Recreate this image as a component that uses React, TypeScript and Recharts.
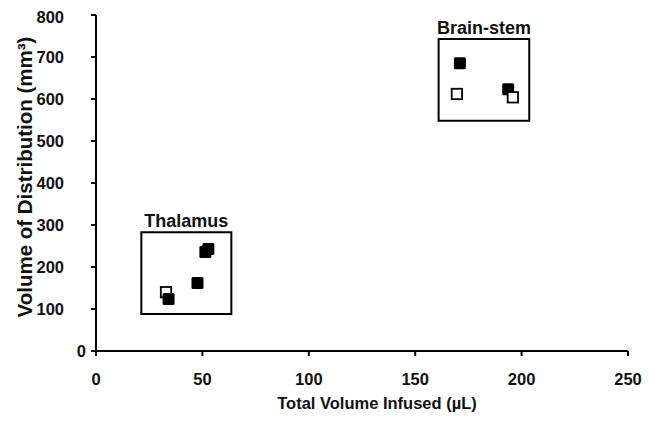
import { ScatterChart, Scatter, XAxis, YAxis, ReferenceArea, Label } from 'recharts';

const FONT = '"Liberation Sans", Arial, Helvetica, sans-serif';

// values (x: µL infused, y: mm³ distributed)
const thalamusOpen = [{ x: 32.9, y: 140 }];
const thalamusFilled = [
  { x: 34.1, y: 124 },
  { x: 47.7, y: 162 },
  { x: 51.4, y: 236 },
  { x: 52.8, y: 243 },
];
const brainstemFilled = [
  { x: 171, y: 685 },
  { x: 193.7, y: 623 },
];
const brainstemOpen = [
  { x: 169.6, y: 612 },
  { x: 195.9, y: 604 },
];

const xTicks = [0, 50, 100, 150, 200, 250];
const yTicks = [0, 100, 200, 300, 400, 500, 600, 700, 800];

const regions = [
  { name: 'Thalamus', x1: 21.3, x2: 63.6, y1: 88, y2: 283 },
  { name: 'Brain-stem', x1: 161, x2: 203.6, y1: 548, y2: 743 },
];

const tickStyle = { fontSize: 16.5, fontWeight: 700, fill: '#111', fontFamily: FONT };

function YTick(props: any) {
  const { x, y, payload } = props;
  // the zero label sits closer to the axis than the others in the original
  const shift = payload.value === 0 ? -3 : -25;
  return (
    <text x={x + shift} y={y} dy="0.35em" textAnchor="end" {...tickStyle}>
      {payload.value}
    </text>
  );
}

function FilledSquare(props: any) {
  const { cx, cy } = props;
  return <rect x={cx - 6} y={cy - 6} width={12} height={12} rx={1.5} fill="#000" />;
}

function OpenSquare(props: any) {
  const { cx, cy } = props;
  return (
    <rect x={cx - 5.2} y={cy - 5.2} width={10.4} height={10.4} fill="#fff" stroke="#000" strokeWidth={1.8} />
  );
}

export default function App() {
  return (
    <div style={{ width: 640, height: 410, fontFamily: FONT }}>
      <ScatterChart width={640} height={410} margin={{ top: 7, right: 20, bottom: 5, left: 0 }}>
        <XAxis
          type="number"
          dataKey="x"
          domain={[0, 250]}
          ticks={xTicks}
          tick={tickStyle}
          tickSize={5}
          tickMargin={17}
          height={62}
          axisLine={{ stroke: '#000', strokeWidth: 2 }}
          tickLine={{ stroke: '#000', strokeWidth: 2 }}
        >
          <Label
            content={({ viewBox }: any) => (
              <text
                x={viewBox.x + viewBox.width / 2 + 15}
                y={viewBox.y + 58}
                textAnchor="middle"
                fontSize={16.5}
                fontWeight={700}
                fill="#111"
                fontFamily={FONT}
              >
                Total Volume Infused (µL)
              </text>
            )}
          />
        </XAxis>
        <YAxis
          type="number"
          dataKey="y"
          domain={[0, 800]}
          ticks={yTicks}
          tick={YTick}
          tickSize={5}
          width={88}
          axisLine={{ stroke: '#000', strokeWidth: 2 }}
          tickLine={{ stroke: '#000', strokeWidth: 2 }}
        >
          <Label
            content={({ viewBox }: any) => {
              const x = viewBox.x + 24;
              const y = viewBox.y + viewBox.height / 2 - 6;
              return (
                <text
                  x={x}
                  y={y}
                  transform={`rotate(-90 ${x} ${y})`}
                  textAnchor="middle"
                  fontSize={20.5}
                  fontWeight={700}
                  fill="#111"
                  fontFamily={FONT}
                >
                  Volume of Distribution (mm³)
                </text>
              );
            }}
          />
        </YAxis>
        {regions.map((r) => (
          <ReferenceArea
            key={r.name}
            x1={r.x1}
            x2={r.x2}
            y1={r.y1}
            y2={r.y2}
            fill="none"
            fillOpacity={0}
            stroke="#000"
            strokeWidth={2}
            label={{
              value: r.name,
              position: 'top',
              offset: 5,
              fontSize: 18,
              fontWeight: 700,
              fill: '#111',
              fontFamily: FONT,
            }}
          />
        ))}
        <Scatter data={thalamusOpen} shape={OpenSquare} isAnimationActive={false} />
        <Scatter data={thalamusFilled} shape={FilledSquare} isAnimationActive={false} />
        <Scatter data={brainstemFilled} shape={FilledSquare} isAnimationActive={false} />
        <Scatter data={brainstemOpen} shape={OpenSquare} isAnimationActive={false} />
      </ScatterChart>
    </div>
  );
}
